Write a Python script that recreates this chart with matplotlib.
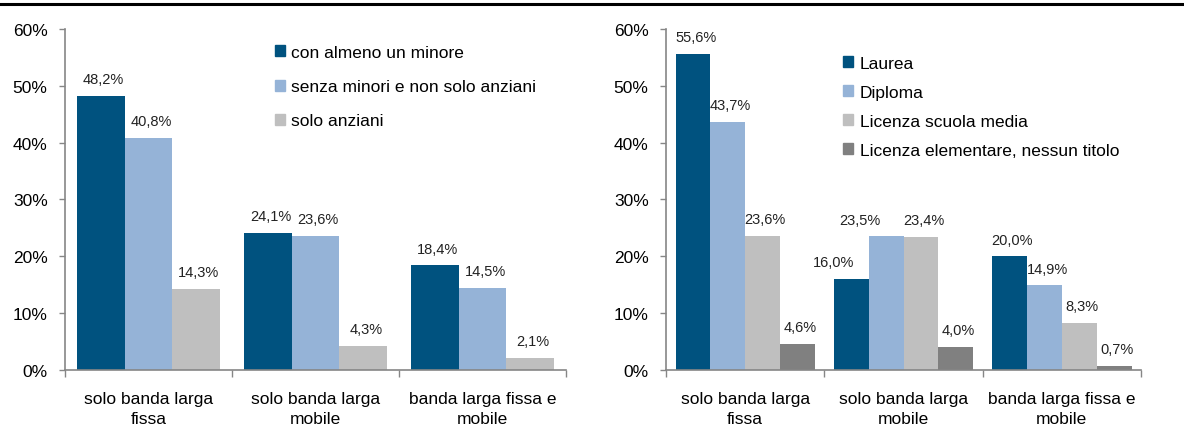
import matplotlib.pyplot as plt
import numpy as np
from matplotlib.patches import Patch
from matplotlib.lines import Line2D

plt.rcParams['font.family'] = ['Liberation Sans', 'DejaVu Sans']

# data
categories = ['solo banda larga\nfissa', 'solo banda larga\nmobile', 'banda larga fissa e\nmobile']

left_series = ['con almeno un minore', 'senza minori e non solo anziani', 'solo anziani']
left_values = [
    [48.2, 24.1, 18.4],
    [40.8, 23.6, 14.5],
    [14.3, 4.3, 2.1],
]

right_series = ['Laurea', 'Diploma', 'Licenza scuola media', 'Licenza elementare, nessun titolo']
right_values = [
    [55.6, 16.0, 20.0],
    [43.7, 23.5, 14.9],
    [23.6, 23.4, 8.3],
    [4.6, 4.0, 0.7],
]

colors = ['#00527F', '#95B3D7', '#BFBFBF', '#808080']
axis_color = '#868686'

# labels moved sideways by hand in the original (series, category) -> points
right_label_shift = {(0, 1): -13, (1, 1): -19}


def draw_panel(ax, series, values, fill, shifts=None):
    shifts = shifts or {}
    n = len(series)
    w = fill / n
    x = np.arange(len(categories))
    for i, (name, vals) in enumerate(zip(series, values)):
        pos = x + (i - (n - 1) / 2) * w
        ax.bar(pos, vals, width=w, color=colors[i], label=name, linewidth=0)
        for j, (p, v) in enumerate(zip(pos, vals)):
            dx = shifts.get((i, j), 2)
            ax.annotate(f'{v:.1f}%'.replace('.', ','), (p, v), xytext=(dx, 7),
                        textcoords='offset points', ha='center', va='bottom',
                        fontsize=10.5, color='#222222')
    ax.set_xlim(-0.5, len(categories) - 0.5)
    ax.set_ylim(0, 60)
    ax.set_yticks(range(0, 61, 10))
    ax.set_yticklabels([f'{t}%' for t in range(0, 61, 10)], fontsize=12.5)
    ax.set_xticks(np.arange(len(categories) + 1) - 0.5)
    ax.set_xticklabels([])
    ax.set_xticks(x, minor=True)
    ax.set_xticklabels(categories, minor=True, fontsize=12.5, linespacing=1.45)
    ax.tick_params(axis='x', which='minor', length=0, pad=15)
    ax.tick_params(axis='x', which='major', length=5, width=1, color=axis_color)
    ax.tick_params(axis='y', length=4.5, width=1, color=axis_color, pad=8)
    for s in ['top', 'right']:
        ax.spines[s].set_visible(False)
    for s in ['left', 'bottom']:
        ax.spines[s].set_color(axis_color)
        ax.spines[s].set_linewidth(1.2)


fig = plt.figure(figsize=(11.84, 4.39), dpi=100)
ax1 = fig.add_axes([0.0549, 0.155, 0.4231, 0.777])
ax2 = fig.add_axes([0.5625, 0.155, 0.4012, 0.777])

draw_panel(ax1, left_series, left_values, 0.857)
draw_panel(ax2, right_series, right_values, 0.88, right_label_shift)

h1 = [Patch(color=colors[i]) for i in range(3)]
ax1.legend(h1, left_series, loc='upper left', bbox_to_anchor=(0.232, 0.895),
           bbox_transform=fig.transFigure, frameon=False, fontsize=12.5,
           handlelength=0.6, handleheight=0.6, handletextpad=0.35, labelspacing=1.1,
           borderpad=0, borderaxespad=0)
h2 = [Patch(color=colors[i]) for i in range(4)]
ax2.legend(h2, right_series, loc='upper left', bbox_to_anchor=(0.712, 0.87),
           bbox_transform=fig.transFigure, frameon=False, fontsize=12.5,
           handlelength=0.6, handleheight=0.6, handletextpad=0.35, labelspacing=0.8,
           borderpad=0, borderaxespad=0)

# top rule
fig.add_artist(Line2D([0, 1], [0.988, 0.988], transform=fig.transFigure, color='black', linewidth=2.2))

fig.savefig('out.png', dpi=100)
